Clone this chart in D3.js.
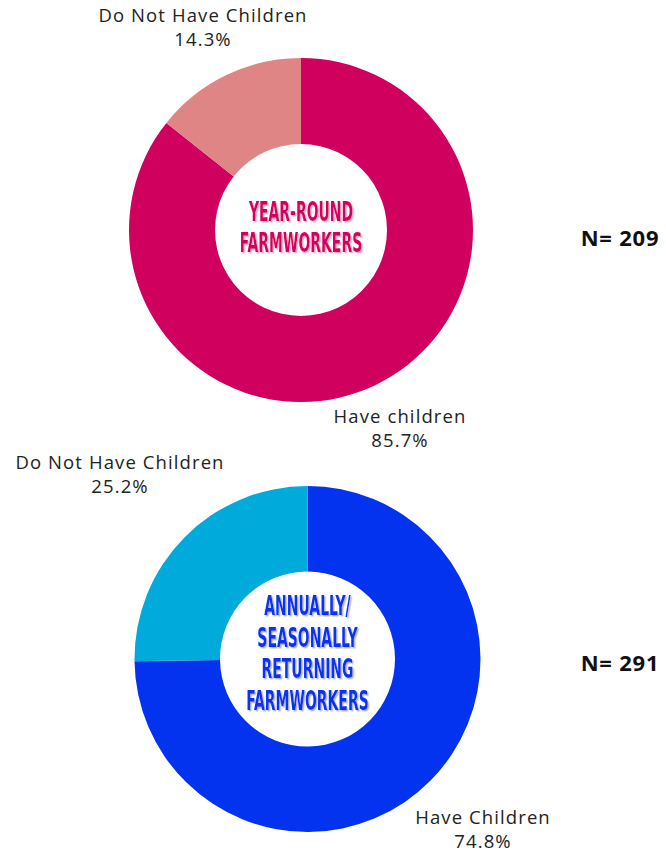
<!DOCTYPE html>
<html>
<head>
<meta charset="utf-8">
<script src="https://cdn.jsdelivr.net/npm/d3@7"></script>
<style>
  html, body { margin: 0; padding: 0; background: #fff; }
  svg { display: block; }
</style>
</head>
<body>
<svg id="chart" width="666" height="852"></svg>
<script>
// Share of farmworkers with children, by work pattern
const categories = ["Have children", "Do Not Have Children"];
const yearRoundValues = [85.7, 14.3];
const seasonalValues = [74.8, 25.2];
const yearRoundLabels = ["Have children", "Do Not Have Children"];
const seasonalLabels = ["Have Children", "Do Not Have Children"];
const yearRoundTitle = ["YEAR-ROUND", "FARMWORKERS"];
const seasonalTitle = ["ANNUALLY/", "SEASONALLY", "RETURNING", "FARMWORKERS"];
const yearRoundN = 209;
const seasonalN = 291;

const svg = d3.select("#chart");
const labelFont = "'Open Sans', 'DejaVu Sans', sans-serif";
const titleFont = "'Liberation Sans Narrow', 'DejaVu Sans Condensed', 'Liberation Sans', sans-serif";
const defs = svg.append("defs");

function donut(cfg) {
  const g = svg.append("g").attr("transform", `translate(${cfg.cx},${cfg.cy})`);
  const color = d3.scaleOrdinal().domain(categories).range(cfg.colors);
  const pie = d3.pie().sort(null).value(d => d.value);
  const arc = d3.arc().innerRadius(cfg.inner).outerRadius(cfg.outer);
  const data = categories.map((c, i) => ({ cat: c, value: cfg.values[i], label: cfg.labels[i] }));
  const arcs = pie(data);

  g.selectAll("path.slice").data(arcs).join("path")
    .attr("class", "slice")
    .attr("d", arc)
    .attr("fill", d => color(d.data.cat));

  // slice labels: name on first line, percentage below
  svg.append("g").selectAll("text").data(arcs).join("text")
    .attr("text-anchor", "middle")
    .attr("font-family", labelFont)
    .attr("font-size", 18.5)
    .attr("letter-spacing", 1.1)
    .attr("fill", "#222")
    .attr("transform", (d, i) => `translate(${cfg.labelPos[i][0]},${cfg.labelPos[i][1]})`)
    .each(function (d) {
      const t = d3.select(this);
      t.append("tspan").attr("x", 0).attr("dy", 0).text(d.data.label);
      t.append("tspan").attr("x", 0).attr("dy", 24).text(d3.format(".1f")(d.data.value) + "%");
    });

  // soft offset shadow behind the centre title
  const fid = "shadow-" + cfg.id;
  defs.append("filter").attr("id", fid)
    .attr("x", "-10%").attr("y", "-10%").attr("width", "120%").attr("height", "130%")
    .append("feDropShadow")
    .attr("dx", 1.4).attr("dy", 1.4).attr("stdDeviation", 0.3)
    .attr("flood-color", cfg.shadow).attr("flood-opacity", 1);

  const lh = 31.5;
  const y0 = -((cfg.title.length - 1) * lh) / 2 + cfg.titleShift;
  const tg = g.append("g").attr("filter", `url(#${fid})`)
    .append("g").attr("transform", `scale(${cfg.titleScale},1)`);
  tg.selectAll("text").data(cfg.title).join("text")
    .attr("x", 0)
    .attr("y", (d, i) => y0 + i * lh)
    .attr("dy", "0.36em")
    .attr("text-anchor", "middle")
    .attr("font-family", titleFont)
    .attr("font-weight", "bold")
    .attr("font-size", 27)
    .attr("fill", cfg.titleColor)
    .text(d => d);

  svg.append("text")
    .attr("x", cfg.nPos[0]).attr("y", cfg.nPos[1])
    .attr("text-anchor", "middle")
    .attr("dy", "0.36em")
    .attr("font-family", "'Noto Sans', 'DejaVu Sans', sans-serif")
    .attr("font-weight", "bold")
    .attr("font-size", 22)
    .attr("letter-spacing", 0.8)
    .attr("fill", "#111")
    .text("N= " + cfg.n);
}

donut({
  id: "yr", cx: 301, cy: 230, outer: 172, inner: 86,
  values: yearRoundValues, labels: yearRoundLabels,
  colors: ["#D0005E", "#E08585"],
  labelPos: [[400, 423], [203, 22]],
  title: yearRoundTitle, titleColor: "#D3005F", shadow: "#F4A9C8",
  titleScale: 0.575, titleShift: -3,
  n: yearRoundN, nPos: [620, 238]
});

donut({
  id: "sr", cx: 307.5, cy: 659, outer: 173, inner: 87.5,
  values: seasonalValues, labels: seasonalLabels,
  colors: ["#0433EF", "#00ABDB"],
  labelPos: [[483, 824], [120, 469]],
  title: seasonalTitle, titleColor: "#0833EE", shadow: "#A6B6FA",
  titleScale: 0.575, titleShift: -6,
  n: seasonalN, nPos: [620, 663]
});
</script>
</body>
</html>
